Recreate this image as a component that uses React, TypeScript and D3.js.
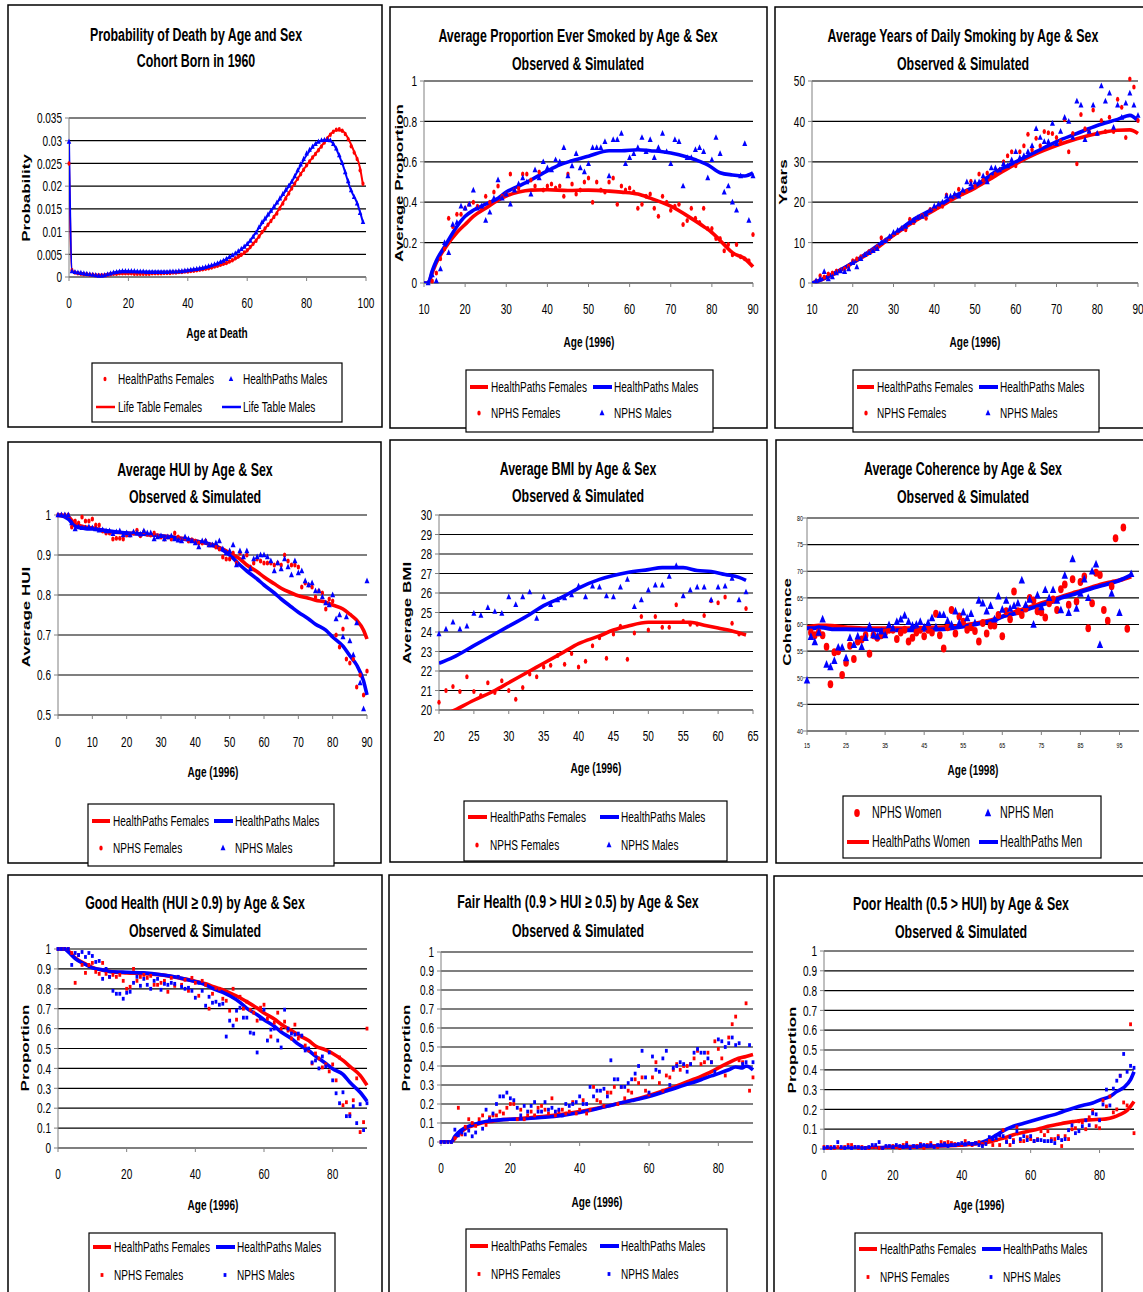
import React from 'react';
import * as d3 from 'd3';

// squashed Arial look of the original picture
const SX = 0.67;
const FONT = '"Liberation Sans", Arial, sans-serif';
const RED = '#ff0000';
const BLUE = '#0000ff';

// ---------- panel 1: probability of death (ages 0..99) ----------
const hpDeathFemales = [0.025,0.0015,0.001,0.0008,0.0007,0.0006,0.0006,0.0005,0.0005,0.0004,
  0.0004,0.0004,0.0004,0.0005,0.0006,0.0007,0.0007,0.0008,0.0008,0.0008,
  0.0008,0.0008,0.0007,0.0007,0.0007,0.0007,0.0007,0.0007,0.0008,0.0008,
  0.0008,0.0008,0.0009,0.0009,0.0009,0.001,0.001,0.0011,0.0011,0.0012,
  0.0012,0.0013,0.0014,0.0015,0.0016,0.0017,0.0018,0.0019,0.0021,0.0023,
  0.0025,0.0027,0.0029,0.0031,0.0034,0.0037,0.0041,0.0045,0.0049,0.0054,
  0.0059,0.0066,0.0073,0.008,0.0089,0.0099,0.0107,0.0115,0.0123,0.0132,
  0.014,0.0151,0.0162,0.0173,0.0184,0.0195,0.0205,0.0216,0.0226,0.0236,
  0.0246,0.0254,0.0263,0.0271,0.0279,0.0287,0.0296,0.0305,0.0313,0.032,
  0.0324,0.0325,0.0322,0.0315,0.0303,0.0288,0.0274,0.026,0.0235,0.0205];
const hpDeathMales = [0.0298,0.0013,0.0011,0.001,0.0009,0.0008,0.0007,0.0006,0.0005,0.0004,
  0.0003,0.0003,0.0004,0.0006,0.0008,0.001,0.0011,0.0012,0.0013,0.0013,
  0.0013,0.0013,0.0013,0.0012,0.0012,0.0012,0.0011,0.0011,0.0011,0.0011,
  0.0011,0.0011,0.0011,0.0011,0.0012,0.0012,0.0012,0.0013,0.0013,0.0014,
  0.0015,0.0016,0.0017,0.0018,0.0019,0.002,0.0022,0.0024,0.0026,0.0028,
  0.003,0.0033,0.0036,0.004,0.0044,0.0048,0.0052,0.0057,0.0062,0.0067,
  0.0073,0.008,0.0089,0.0098,0.011,0.0121,0.0129,0.0138,0.0146,0.0155,
  0.0164,0.0173,0.0183,0.0192,0.0201,0.021,0.0222,0.0235,0.0248,0.026,
  0.0272,0.028,0.0287,0.0293,0.0298,0.0301,0.0302,0.0302,0.0301,0.0293,
  0.0283,0.0268,0.0251,0.0231,0.0211,0.0191,0.0176,0.0162,0.0141,0.0121];
const lifeTableFemales: [number, number][] = [[0,0.025],[1,0.0012],[5,0.0006],[10,0.0004],[15,0.0007],[20,0.0008],[30,0.0008],[40,0.0012],[50,0.0024],[55,0.0036],[60,0.0058],[65,0.0098],[70,0.0142],[75,0.0196],[80,0.0246],[85,0.0288],[88,0.0314],[90,0.0323],[92,0.0322],[94,0.0305],[96,0.0276],[98,0.024],[99,0.0202]];
const lifeTableMales: [number, number][] = [[0,0.03],[1,0.0013],[5,0.0008],[10,0.0003],[15,0.001],[18,0.0013],[25,0.0012],[35,0.0012],[40,0.0015],[50,0.003],[55,0.0047],[60,0.0072],[65,0.0118],[70,0.0163],[75,0.021],[80,0.0268],[84,0.0298],[87,0.0302],[89,0.0293],[92,0.025],[95,0.019],[97,0.0163],[99,0.012]];

// ---------- panel 2: ever smoked (ages 11..90) ----------
const nphsSmokeFemales = [null,0.01,0.05,0.12,0.17,0.32,0.28,0.34,0.34,0.37,0.39,0.40,0.38,0.37,0.43,0.40,0.45,0.48,0.43,0.44,
  0.54,0.46,0.47,0.54,0.54,0.51,0.48,0.55,0.46,0.48,0.49,0.47,0.48,0.43,0.54,0.49,0.44,0.46,0.50,0.52,
  0.40,0.50,0.46,0.45,0.50,0.52,0.39,0.48,0.46,0.47,0.45,0.37,0.39,0.43,0.44,0.37,0.33,0.43,0.40,0.36,
  0.38,0.39,0.29,0.31,0.37,0.32,0.30,0.37,0.27,0.27,0.22,0.22,0.16,0.19,0.14,0.19,0.13,0.12,0.11,0.24];
const nphsSmokeMales = [0.0,0.04,0.01,0.07,0.20,0.15,0.29,0.30,0.38,0.37,0.39,0.46,0.37,0.38,0.31,0.35,0.42,0.51,0.42,0.44,
  0.39,0.46,0.49,0.52,0.50,0.44,0.56,0.52,0.60,0.57,0.56,0.61,0.60,0.67,0.53,0.58,0.64,0.57,0.55,0.59,
  0.67,0.67,0.67,0.70,0.53,0.71,0.71,0.74,0.59,0.62,0.64,0.67,0.72,0.65,0.71,0.62,0.67,0.74,0.65,0.59,
  0.71,0.70,0.48,0.62,0.62,0.66,0.67,0.65,0.52,0.61,0.72,0.64,0.45,0.48,0.40,0.36,0.53,0.69,0.31,0.53];
const hpSmokeFemales: [number, number][] = [[10,0],[11,0],[12,0.05],[13,0.1],[15,0.17],[18,0.25],[20,0.29],[22,0.33],[25,0.37],[28,0.41],[30,0.43],[33,0.45],[36,0.46],[40,0.462],[45,0.458],[50,0.46],[55,0.455],[58,0.45],[62,0.44],[65,0.42],[70,0.38],[75,0.32],[78,0.28],[80,0.25],[83,0.19],[85,0.15],[88,0.12],[90,0.08]];
const hpSmokeMales: [number, number][] = [[10,0],[11,0],[12,0.06],[13,0.11],[15,0.18],[18,0.28],[20,0.33],[22,0.36],[25,0.39],[28,0.42],[30,0.45],[33,0.48],[36,0.51],[40,0.555],[43,0.585],[46,0.605],[50,0.628],[55,0.655],[58,0.655],[62,0.66],[65,0.655],[68,0.65],[72,0.635],[76,0.61],[79,0.585],[82,0.546],[85,0.535],[88,0.53],[90,0.545]];

// ---------- panel 3: years of daily smoking (ages 11..90) ----------
const nphsYearsFemales = [0.5,1.8,1.5,2.2,2.5,3,3.2,3.5,4.2,5.5,6,6.5,7,7.8,8.2,9,11.2,10.5,11,12,
  12.5,13.5,13.2,15.8,15,16,16.8,16,18.2,18.5,18.8,19,21.8,21,21.8,23.2,22.2,22.8,25.2,24,
  27,25.5,27.2,26.2,27,28,30,31.5,32.5,29,32.5,34,36.8,33,35.8,34,37.5,37.2,37,36,
  35,40.5,32.5,37,29.5,41.7,38.2,37.5,42.8,37,40.2,37.5,41,37.5,45.5,43.5,36,50.5,48.5,40.2];
const nphsYearsMales = [0.5,1,2.8,1,1.5,2.5,3,2.8,3.5,5,4,6,7,7.5,8,8.5,10,10.5,11.5,12.5,
  13,13.5,14,15,15.5,16.2,16.5,17,18,19,19.5,20,21.5,21.5,22,21.5,23,25,24.5,25,
  25,26.5,25,28.5,28.5,28,29.5,29,30.5,32.5,31,31.5,32.5,34,38.2,36,35,35,39.5,34.5,
  37.5,41,40,36,45,44,35.5,37.5,44,37,48.8,45,47,38.5,44,41,44.5,47,44,41.5];
const hpYearsFemales: [number, number][] = [[10,0],[11,0.3],[15,2],[20,5],[25,8],[30,11.8],[35,15.2],[40,18],[45,21],[50,23.5],[55,26.5],[60,29.5],[65,32],[70,34],[75,35.7],[80,37],[85,37.8],[88,37.9],[90,37]];
const hpYearsMales: [number, number][] = [[10,0],[11,0.3],[15,2.2],[20,5],[25,8.5],[30,12],[35,15.8],[40,18.5],[45,21.5],[50,24],[55,27.5],[60,30],[65,32.5],[70,35],[75,37],[80,39],[85,40.5],[88,41.5],[90,40.2]];

// ---------- panel 4: average HUI (ages 0..90) ----------
const nphsHuiFemales = [1,1,1,1,0.97,0.985,0.98,0.995,0.985,0.985,0.99,0.975,0.975,0.96,0.955,0.955,0.94,0.942,0.942,0.94,
  0.95,0.95,0.955,0.962,0.948,0.958,0.952,0.95,0.955,0.948,0.945,0.94,0.945,0.94,0.955,0.945,0.938,0.942,0.935,0.938,
  0.935,0.93,0.93,0.935,0.925,0.925,0.92,0.915,0.895,0.89,0.89,0.905,0.88,0.905,0.895,0.9,0.87,0.88,0.89,0.885,
  0.88,0.88,0.88,0.875,0.88,0.875,0.9,0.885,0.875,0.875,0.87,0.82,0.83,0.825,0.82,0.795,0.81,0.805,0.765,0.79,
  0.785,0.7,0.67,0.715,0.64,0.63,0.64,0.57,0.6,0.55,0.61];
const nphsHuiMales = [1,1,1,1,0.98,0.965,0.97,0.968,0.968,0.97,0.968,0.965,0.962,0.963,0.96,0.96,0.953,0.958,0.96,0.95,
  0.955,0.95,0.958,0.955,0.952,0.96,0.955,0.955,0.94,0.945,0.948,0.94,0.945,0.948,0.94,0.937,0.935,0.945,0.94,0.935,
  0.93,0.92,0.935,0.935,0.925,0.925,0.93,0.935,0.915,0.905,0.91,0.925,0.875,0.91,0.895,0.91,0.865,0.89,0.895,0.9,
  0.9,0.895,0.885,0.86,0.88,0.865,0.89,0.87,0.85,0.885,0.855,0.86,0.835,0.825,0.83,0.81,0.81,0.795,0.78,0.775,
  0.8,0.74,0.75,0.695,0.745,0.685,0.65,0.73,0.58,0.515,0.835];
const hpHuiFemales: [number, number][] = [[0,1],[3,0.995],[5,0.978],[8,0.97],[10,0.968],[15,0.958],[20,0.955],[25,0.952],[30,0.948],[35,0.943],[40,0.935],[45,0.925],[48,0.915],[50,0.905],[53,0.89],[55,0.875],[58,0.858],[60,0.845],[63,0.828],[65,0.817],[68,0.805],[70,0.798],[73,0.792],[75,0.787],[78,0.782],[80,0.775],[83,0.765],[85,0.752],[87,0.737],[89,0.712],[90,0.69]];
const hpHuiMales: [number, number][] = [[0,1],[3,0.99],[5,0.972],[8,0.966],[10,0.965],[15,0.96],[20,0.955],[25,0.952],[30,0.948],[35,0.942],[40,0.935],[45,0.925],[48,0.912],[50,0.9],[53,0.875],[55,0.86],[58,0.84],[60,0.825],[63,0.805],[65,0.79],[68,0.77],[70,0.757],[73,0.74],[75,0.727],[78,0.712],[80,0.695],[83,0.672],[85,0.648],[87,0.625],[89,0.585],[90,0.55]];

// ---------- panel 5: BMI (ages 20..64) ----------
const nphsBmiFemales = [20.4,21.0,21.2,20.95,21.7,20.95,20.75,21.4,20.9,21.5,21.0,20.55,21.15,21.85,21.7,22.2,22.3,22.8,22.35,22.9,
  22.2,22.5,23.3,23.7,22.65,23.9,24.3,22.6,23.95,24.8,24.1,24.8,24.25,24.25,25.4,24.55,24.4,24.4,24.85,25.6,
  25.5,25.8,24.45,23.9,25.2];
const nphsBmiMales = [23.9,24.15,24.5,24.15,24.3,24.95,24.85,25.25,25.05,24.95,25.8,25.4,25.8,26.05,24.7,25.8,25.4,25.65,25.75,25.9,
  26.35,25.8,26.35,26.3,25.85,25.8,26.3,26.7,25.3,25.65,26.15,26.4,26.4,26.85,27.4,25.85,26.15,26.3,26.3,25.65,
  26.3,26.35,26.75,25.65,26.05];
const hpBmiFemales: [number, number][] = [[20,19.6],[22,19.95],[25,20.5],[28,21.0],[30,21.4],[33,22.0],[35,22.4],[38,23.0],[40,23.4],[43,23.8],[45,24.1],[47,24.3],[50,24.5],[53,24.5],[56,24.5],[58,24.35],[60,24.2],[62,24.05],[64,23.85]];
const hpBmiMales: [number, number][] = [[20,22.4],[22,22.7],[25,23.3],[28,23.9],[30,24.3],[33,24.9],[35,25.35],[38,25.85],[40,26.25],[43,26.7],[45,26.9],[47,27.05],[50,27.2],[52,27.3],[55,27.3],[57,27.15],[59,27.1],[61,26.95],[63,26.8],[64,26.65]];

// ---------- panel 6: coherence (ages 15..98) ----------
const nphsCohWomen = [null,58.5,58,58.5,58,55.8,48.8,54.8,55,50.5,52.8,56,53.5,56.8,57.2,58,54.5,58,57.5,58,
  58.5,59,59,57.3,58.5,59,56.8,57.5,58.5,59,57.8,59,58.5,62,58,55.5,59.5,62.7,58.3,61.5,
  60.5,59,59.5,58.8,56.8,60.3,58.3,59.8,59.8,61.8,57.8,62.5,61,66.2,62.5,61.8,63,65,64.5,62.5,
  62.3,61.3,64,64.7,62.7,66.6,67.5,63.7,68.5,64.3,68,69,59.3,64,69.7,69.3,62.7,60.7,67.2,76.2,
  null,78.2,59.2,null];
const nphsCohMen = [49.5,57.7,56.7,58.5,61,52.5,52,53.2,55.7,55.7,53.7,57.5,56.2,57.8,55.8,57.5,59.7,58,57.8,58.7,
  58,59.9,59.3,60.5,61,61.7,60.5,59.8,60,60.5,59.5,60.3,61.2,59.5,61.8,61.8,60.7,60,62.5,60.3,
  62.3,61.2,62,60.3,64.5,64,62.5,63.5,61,65.3,62.8,64.5,63,63.5,64,68.3,63.7,64.7,60,65.5,
  63.3,66.5,65,66.5,64.5,62.7,69.2,62.2,72.3,63,65.8,68.5,65,70,71.3,56.2,null,null,65.8,null,
  62.2,null,null,69.5];
const hpCohWomen: [number, number][] = [[15,59.5],[18,59.8],[20,59.8],[25,59.5],[30,59.3],[35,59.3],[40,59.3],[45,59.4],[50,59.5],[55,59.8],[58,60.2],[60,60.5],[63,61],[65,61.5],[68,62.3],[70,62.8],[73,63.5],[75,64],[78,64.7],[80,65.2],[83,65.9],[85,66.3],[88,67],[90,67.5],[93,68],[95,68.3],[98,69]];
const hpCohMen: [number, number][] = [[15,59.3],[17,59.3],[18,59.5],[20,59.3],[22,59.1],[25,59.1],[30,59],[35,58.9],[40,58.9],[45,59],[50,59.1],[55,59.6],[58,60],[60,60.3],[63,60.8],[65,61.5],[68,62],[70,62.5],[73,63.2],[75,63.7],[78,64.3],[80,65],[83,65.6],[85,66.1],[88,66.8],[90,67.2],[93,67.8],[95,68.3],[98,69.3]];

// ---------- panel 7: good health (ages 0..90) ----------
const nphsGoodFemales = [1,1,1,1,0.98,0.83,0.97,0.92,0.88,0.92,0.93,0.885,0.875,0.93,0.875,0.86,0.87,0.86,0.87,0.84,
  0.8,0.81,0.9,0.84,0.86,0.87,0.855,0.865,0.82,0.82,0.83,0.84,0.785,0.855,0.815,0.86,0.82,0.845,0.79,0.855,
  0.83,0.765,0.84,0.82,0.7,0.775,0.805,0.8,0.75,0.74,0.69,0.8,0.645,0.76,0.7,0.735,0.695,0.68,0.64,0.705,
  0.72,0.65,0.56,0.63,0.68,0.6,0.635,0.59,0.55,0.62,0.55,0.56,0.515,0.49,0.425,0.475,0.45,0.405,0.42,0.385,
  0.42,0.34,0.455,0.215,0.23,0.17,0.24,0.35,0.08,0.13,0.6];
const nphsGoodMales = [1,1,1,1,0.92,0.98,0.97,0.985,0.96,0.98,0.965,0.935,0.94,0.85,0.9,0.86,0.79,0.775,0.775,0.75,
  0.78,0.785,0.83,0.86,0.815,0.85,0.82,0.8,0.84,0.85,0.795,0.825,0.82,0.83,0.825,0.86,0.81,0.8,0.805,0.79,
  0.755,0.83,0.79,0.715,0.76,0.73,0.735,0.72,0.725,0.56,0.64,0.615,0.69,0.705,0.655,0.655,0.58,0.575,0.48,0.65,
  0.695,0.54,0.595,0.6,0.54,0.505,0.695,0.6,0.575,0.57,0.575,0.565,0.49,0.5,0.43,0.44,0.4,0.46,0.41,0.48,
  0.34,0.275,0.225,0.28,0.16,0.16,0.21,0.125,0.22,0.09,0.225];
const hpGoodFemales: [number, number][] = [[0,1],[2,1],[3,0.99],[5,0.955],[8,0.925],[10,0.908],[13,0.893],[15,0.887],[20,0.88],[25,0.876],[30,0.87],[35,0.855],[40,0.838],[43,0.825],[45,0.812],[48,0.795],[50,0.78],[53,0.755],[55,0.735],[58,0.703],[60,0.678],[63,0.648],[65,0.622],[68,0.59],[70,0.568],[73,0.54],[75,0.513],[78,0.492],[80,0.475],[83,0.44],[85,0.41],[88,0.365],[90,0.315]];
const hpGoodMales: [number, number][] = [[0,1],[2,1],[3,0.985],[5,0.952],[8,0.922],[10,0.905],[13,0.895],[15,0.887],[20,0.883],[25,0.88],[30,0.871],[35,0.857],[40,0.836],[43,0.82],[45,0.802],[48,0.782],[50,0.765],[53,0.732],[55,0.702],[58,0.67],[60,0.645],[63,0.612],[65,0.583],[68,0.55],[70,0.522],[73,0.49],[75,0.462],[78,0.425],[80,0.398],[83,0.37],[85,0.33],[88,0.28],[90,0.235]];

// ---------- panel 8: fair health (ages 0..90) ----------
const nphsFairFemales = [0,0,0,0,0.02,0.18,0.04,0.08,0.12,0.1,0.085,0.12,0.14,0.09,0.13,0.14,0.14,0.16,0.15,0.18,
  0.2,0.2,0.12,0.17,0.12,0.14,0.16,0.14,0.18,0.19,0.17,0.15,0.23,0.14,0.16,0.17,0.15,0.16,0.21,0.15,
  0.17,0.22,0.15,0.17,0.29,0.22,0.21,0.19,0.26,0.26,0.29,0.2,0.29,0.23,0.27,0.26,0.33,0.31,0.34,0.27,
  0.25,0.34,0.42,0.31,0.27,0.35,0.34,0.38,0.41,0.38,0.4,0.4,0.41,0.44,0.48,0.41,0.42,0.47,0.42,0.53,
  0.49,0.44,0.35,0.55,0.62,0.66,0.43,0.42,0.73,0.27,0.34];
const nphsFairMales = [0,0,0,0,0.065,0.035,0.05,0.04,0.06,0.03,0.05,0.1,0.07,0.17,0.12,0.15,0.2,0.24,0.24,0.26,
  0.23,0.22,0.18,0.14,0.19,0.16,0.19,0.21,0.16,0.16,0.21,0.17,0.18,0.16,0.17,0.14,0.2,0.19,0.2,0.21,
  0.24,0.2,0.2,0.29,0.24,0.27,0.27,0.28,0.24,0.43,0.33,0.33,0.29,0.29,0.31,0.33,0.36,0.4,0.48,0.34,
  0.26,0.45,0.38,0.37,0.44,0.48,0.3,0.39,0.4,0.42,0.41,0.37,0.41,0.47,0.49,0.47,0.47,0.44,0.42,0.37,
  0.54,0.53,0.5,0.52,0.55,0.51,0.52,0.41,0.42,0.51,0.42];
const hpFairFemales: [number, number][] = [[0,0],[3,0],[4,0.02],[5,0.04],[7,0.07],[10,0.09],[13,0.105],[15,0.11],[18,0.118],[20,0.12],[23,0.124],[25,0.127],[30,0.135],[35,0.146],[40,0.16],[45,0.178],[50,0.198],[55,0.22],[60,0.245],[65,0.275],[70,0.31],[75,0.345],[78,0.37],[80,0.39],[83,0.418],[85,0.435],[88,0.45],[90,0.46]];
const hpFairMales: [number, number][] = [[0,0],[3,0],[4,0.03],[5,0.05],[7,0.075],[10,0.095],[13,0.108],[15,0.113],[18,0.118],[20,0.12],[23,0.121],[25,0.124],[30,0.13],[35,0.14],[40,0.155],[45,0.175],[50,0.198],[55,0.218],[60,0.24],[65,0.268],[70,0.298],[75,0.328],[78,0.348],[80,0.36],[83,0.38],[85,0.395],[87,0.39],[88,0.4],[90,0.38]];

// ---------- panel 9: poor health (ages 0..90) ----------
const nphsPoorFemales = [0.01,0.005,0.01,0.005,0.01,0.005,0.01,0.02,0.02,0.01,0.005,0.01,0.005,0.005,0.01,0.01,0.005,0.005,0.01,0.01,
  0.015,0.01,0.005,0.02,0.03,0.01,0.01,0.015,0.025,0.005,0.02,0.03,0.015,0.01,0.035,0.03,0.035,0.03,0.025,0.02,
  0.02,0.04,0.025,0.02,0.03,0.035,0.025,0.03,0.045,0.02,0.045,0.02,0.095,0.04,0.02,0.045,0.11,0.04,0.04,0.06,
  0.05,0.04,0.05,0.09,0.07,0.09,0.05,0.05,0.065,0.015,0.065,0.05,0.1,0.105,0.14,0.135,0.1,0.16,0.195,0.115,
  0.105,0.245,0.215,0.265,0.185,0.2,0.37,0.235,0.22,0.63,0.08];
const nphsPoorMales = [0.005,0.01,0.005,0.01,0.035,0.01,0.005,0.01,0.005,0.01,0.01,0.005,0.005,0.01,0.02,0.02,0.035,0.005,0.015,0.015,
  0.01,0.02,0.015,0.01,0.02,0.005,0.015,0.01,0.02,0.02,0.015,0.02,0.01,0.02,0.02,0.025,0.015,0.02,0.02,0.025,
  0.03,0.025,0.03,0.025,0.03,0.02,0.015,0.025,0.06,0.05,0.055,0.07,0.065,0.035,0.06,0.035,0.09,0.05,0.065,0.045,
  0.065,0.04,0.045,0.045,0.04,0.04,0.04,0.03,0.055,0.045,0.05,0.095,0.12,0.08,0.09,0.115,0.145,0.12,0.18,0.175,
  0.145,0.225,0.3,0.22,0.305,0.345,0.37,0.48,0.39,0.42,0.41];
const hpPoorFemales: [number, number][] = [[0,0],[10,0.002],[20,0.008],[30,0.012],[40,0.02],[45,0.028],[48,0.035],[50,0.045],[53,0.06],[55,0.072],[58,0.085],[60,0.092],[63,0.105],[65,0.115],[68,0.125],[70,0.132],[73,0.14],[75,0.145],[78,0.148],[80,0.15],[82,0.152],[84,0.16],[86,0.175],[88,0.195],[90,0.24]];
const hpPoorMales: [number, number][] = [[0,0],[10,0.003],[20,0.01],[30,0.015],[40,0.022],[45,0.03],[48,0.05],[50,0.07],[53,0.1],[55,0.115],[58,0.13],[60,0.14],[63,0.155],[65,0.165],[68,0.18],[70,0.193],[73,0.21],[75,0.22],[78,0.232],[80,0.247],[83,0.265],[85,0.29],[87,0.31],[89,0.35],[90,0.39]];

// ---------- tick labels ----------
const deathYTicks = [0,0.005,0.01,0.015,0.02,0.025,0.03,0.035];
const deathXTicks = [0,20,40,60,80,100];
const propYTicks5 = [0,0.2,0.4,0.6,0.8,1];
const smokeXTicks = [10,20,30,40,50,60,70,80,90];
const yearsYTicks = [0,10,20,30,40,50];
const huiYTicks = [0.5,0.6,0.7,0.8,0.9,1];
const huiXTicks = [0,10,20,30,40,50,60,70,80,90];
const bmiYTicks = [20,21,22,23,24,25,26,27,28,29,30];
const bmiXTicks = [20,25,30,35,40,45,50,55,60,65];
const cohYTicks = [40,45,50,55,60,65,70,75,80];
const cohXTicks = [15,25,35,45,55,65,75,85,95];
const propYTicks10 = [0,0.1,0.2,0.3,0.4,0.5,0.6,0.7,0.8,0.9,1];
const healthXTicks = [0,20,40,60,80];

type Mark = 'dot' | 'tri' | 'sq' | 'bigdot' | 'bigtri';
type Scatter = { start: number; values: (number | null)[]; color: string; mark: Mark };
type LineS = { pts: [number, number][]; color: string; width: number };
type LegItem = { label: string; color: string; kind: Mark | 'line' };

interface Panel {
  box: [number, number, number, number];
  plot: [number, number, number, number];
  xDomain: [number, number];
  yDomain: [number, number];
  xTicks: number[];
  yTicks: number[];
  tickSize: number;
  xTickDy: number;
  title: string[];
  titleX: number;
  titleY: number[];
  yLabel: string;
  yLabelX: number;
  yLabelY: number;
  xLabel: string;
  xLabelX: number;
  xLabelY: number;
  legend: { box: [number, number, number, number]; rows: [number, number]; t1: number; c2: number; size: number; lineW: number; items: LegItem[] };
  lines: LineS[];
  scatters: Scatter[];
}

const hpLegend = (f: string, m: string, nf: string, nm: string, mk: Mark): LegItem[] => [
  { label: f, color: RED, kind: 'line' },
  { label: m, color: BLUE, kind: 'line' },
  { label: nf, color: RED, kind: mk === 'sq' ? 'sq' : 'dot' },
  { label: nm, color: BLUE, kind: mk },
];

const panels: Panel[] = [
  {
    box: [8, 5, 382, 427], plot: [69, 118, 366, 277], xDomain: [0, 100], yDomain: [0, 0.035],
    xTicks: deathXTicks, yTicks: deathYTicks, tickSize: 15, xTickDy: 31,
    title: ['Probability of Death by Age and Sex', 'Cohort Born in 1960'], titleX: 196, titleY: [41, 67],
    yLabel: 'Probability', yLabelX: 30, yLabelY: 198, xLabel: 'Age at Death', xLabelX: 217, xLabelY: 338,
    legend: { box: [92, 363, 342, 422], rows: [379, 407], t1: 26, c2: 151, size: 15, lineW: 2.5, items: [
      { label: 'HealthPaths Females', color: RED, kind: 'dot' },
      { label: 'HealthPaths Males', color: BLUE, kind: 'tri' },
      { label: 'Life Table Females', color: RED, kind: 'line' },
      { label: 'Life Table Males', color: BLUE, kind: 'line' },
    ] },
    lines: [{ pts: lifeTableFemales, color: RED, width: 2 }, { pts: lifeTableMales, color: BLUE, width: 2 }],
    scatters: [{ start: 0, values: hpDeathFemales, color: RED, mark: 'dot' }, { start: 0, values: hpDeathMales, color: BLUE, mark: 'tri' }],
  },
  {
    box: [390, 7, 767, 428], plot: [424, 81, 753, 283], xDomain: [10, 90], yDomain: [0, 1],
    xTicks: smokeXTicks, yTicks: propYTicks5, tickSize: 15, xTickDy: 31,
    title: ['Average Proportion Ever Smoked by Age & Sex', 'Observed & Simulated'], titleX: 578, titleY: [42, 70],
    yLabel: 'Average Proportion', yLabelX: 403, yLabelY: 183, xLabel: 'Age (1996)', xLabelX: 589, xLabelY: 347,
    legend: { box: [466, 370, 713, 432], rows: [387, 413], t1: 25, c2: 148, size: 15, lineW: 4, items: hpLegend('HealthPaths Females', 'HealthPaths Males', 'NPHS Females', 'NPHS Males', 'tri') },
    lines: [{ pts: hpSmokeFemales, color: RED, width: 3.6 }, { pts: hpSmokeMales, color: BLUE, width: 3.6 }],
    scatters: [{ start: 11, values: nphsSmokeFemales, color: RED, mark: 'dot' }, { start: 11, values: nphsSmokeMales, color: BLUE, mark: 'tri' }],
  },
  {
    box: [775, 7, 1160, 428], plot: [812, 81, 1138, 283], xDomain: [10, 90], yDomain: [0, 50],
    xTicks: smokeXTicks, yTicks: yearsYTicks, tickSize: 15, xTickDy: 31,
    title: ['Average Years of Daily Smoking by Age & Sex', 'Observed & Simulated'], titleX: 963, titleY: [42, 70],
    yLabel: 'Years', yLabelX: 787, yLabelY: 182, xLabel: 'Age (1996)', xLabelX: 975, xLabelY: 347,
    legend: { box: [853, 370, 1099, 432], rows: [387, 413], t1: 24, c2: 147, size: 15, lineW: 4, items: hpLegend('HealthPaths Females', 'HealthPaths Males', 'NPHS Females', 'NPHS Males', 'tri') },
    lines: [{ pts: hpYearsFemales, color: RED, width: 3.6 }, { pts: hpYearsMales, color: BLUE, width: 3.6 }],
    scatters: [{ start: 11, values: nphsYearsFemales, color: RED, mark: 'dot' }, { start: 11, values: nphsYearsMales, color: BLUE, mark: 'tri' }],
  },
  {
    box: [8, 442, 381, 863], plot: [58, 515, 367, 715], xDomain: [0, 90], yDomain: [0.5, 1],
    xTicks: huiXTicks, yTicks: huiYTicks, tickSize: 15, xTickDy: 32,
    title: ['Average HUI by Age & Sex', 'Observed & Simulated'], titleX: 195, titleY: [476, 503],
    yLabel: 'Average HUI', yLabelX: 30, yLabelY: 617, xLabel: 'Age (1996)', xLabelX: 213, xLabelY: 777,
    legend: { box: [88, 804, 334, 866], rows: [821, 848], t1: 25, c2: 147, size: 15, lineW: 4, items: hpLegend('HealthPaths Females', 'HealthPaths Males', 'NPHS Females', 'NPHS Males', 'tri') },
    lines: [{ pts: hpHuiFemales, color: RED, width: 3.6 }, { pts: hpHuiMales, color: BLUE, width: 3.6 }],
    scatters: [{ start: 0, values: nphsHuiFemales, color: RED, mark: 'dot' }, { start: 0, values: nphsHuiMales, color: BLUE, mark: 'tri' }],
  },
  {
    box: [390, 440, 767, 862], plot: [439, 515, 753, 710], xDomain: [20, 65], yDomain: [20, 30],
    xTicks: bmiXTicks, yTicks: bmiYTicks, tickSize: 15, xTickDy: 31,
    title: ['Average BMI by Age & Sex', 'Observed & Simulated'], titleX: 578, titleY: [475, 502],
    yLabel: 'Average BMI', yLabelX: 411, yLabelY: 613, xLabel: 'Age (1996)', xLabelX: 596, xLabelY: 773,
    legend: { box: [464, 801, 727, 861], rows: [817, 845], t1: 26, c2: 157, size: 15, lineW: 4, items: hpLegend('HealthPaths Females', 'HealthPaths Males', 'NPHS Females', 'NPHS Males', 'tri') },
    lines: [{ pts: hpBmiFemales, color: RED, width: 3.6 }, { pts: hpBmiMales, color: BLUE, width: 3.6 }],
    scatters: [{ start: 20, values: nphsBmiFemales, color: RED, mark: 'dot' }, { start: 20, values: nphsBmiMales, color: BLUE, mark: 'tri' }],
  },
  {
    box: [776, 440, 1160, 863], plot: [807, 518, 1139, 731], xDomain: [15, 100], yDomain: [40, 80],
    xTicks: cohXTicks, yTicks: cohYTicks, tickSize: 8, xTickDy: 17,
    title: ['Average Coherence by Age & Sex', 'Observed & Simulated'], titleX: 963, titleY: [475, 503],
    yLabel: 'Coherence', yLabelX: 791, yLabelY: 622, xLabel: 'Age (1998)', xLabelX: 973, xLabelY: 775,
    legend: { box: [843, 796, 1101, 858], rows: [813, 842], t1: 29, c2: 157, size: 16, lineW: 4, items: [
      { label: 'NPHS Women', color: RED, kind: 'bigdot' },
      { label: 'NPHS Men', color: BLUE, kind: 'bigtri' },
      { label: 'HealthPaths Women', color: RED, kind: 'line' },
      { label: 'HealthPaths Men', color: BLUE, kind: 'line' },
    ] },
    lines: [{ pts: hpCohWomen, color: RED, width: 4 }, { pts: hpCohMen, color: BLUE, width: 4 }],
    scatters: [{ start: 15, values: nphsCohWomen, color: RED, mark: 'bigdot' }, { start: 15, values: nphsCohMen, color: BLUE, mark: 'bigtri' }],
  },
  {
    box: [8, 875, 382, 1300], plot: [58, 949, 367, 1148], xDomain: [0, 90], yDomain: [0, 1],
    xTicks: healthXTicks, yTicks: propYTicks10, tickSize: 15, xTickDy: 31,
    title: ['Good Health (HUI \u2265 0.9) by Age & Sex', 'Observed & Simulated'], titleX: 195, titleY: [909, 937],
    yLabel: 'Proportion', yLabelX: 29, yLabelY: 1048, xLabel: 'Age (1996)', xLabelX: 213, xLabelY: 1210,
    legend: { box: [89, 1233, 335, 1296], rows: [1247, 1275], t1: 25, c2: 148, size: 15, lineW: 4, items: hpLegend('HealthPaths Females', 'HealthPaths Males', 'NPHS Females', 'NPHS Males', 'sq') },
    lines: [{ pts: hpGoodFemales, color: RED, width: 3.6 }, { pts: hpGoodMales, color: BLUE, width: 3.6 }],
    scatters: [{ start: 0, values: nphsGoodFemales, color: RED, mark: 'sq' }, { start: 0, values: nphsGoodMales, color: BLUE, mark: 'sq' }],
  },
  {
    box: [389, 875, 767, 1300], plot: [441, 952, 753, 1142], xDomain: [0, 90], yDomain: [0, 1],
    xTicks: healthXTicks, yTicks: propYTicks10, tickSize: 15, xTickDy: 31,
    title: ['Fair Health (0.9 > HUI \u2265 0.5) by Age & Sex', 'Observed & Simulated'], titleX: 578, titleY: [908, 937],
    yLabel: 'Proportion', yLabelX: 410, yLabelY: 1048, xLabel: 'Age (1996)', xLabelX: 597, xLabelY: 1207,
    legend: { box: [466, 1229, 727, 1296], rows: [1246, 1274], t1: 25, c2: 155, size: 15, lineW: 4, items: hpLegend('HealthPaths Females', 'HealthPaths Males', 'NPHS Females', 'NPHS Males', 'sq') },
    lines: [{ pts: hpFairFemales, color: RED, width: 3.6 }, { pts: hpFairMales, color: BLUE, width: 3.6 }],
    scatters: [{ start: 0, values: nphsFairFemales, color: RED, mark: 'sq' }, { start: 0, values: nphsFairMales, color: BLUE, mark: 'sq' }],
  },
  {
    box: [774, 876, 1160, 1300], plot: [824, 951, 1134, 1149], xDomain: [0, 90], yDomain: [0, 1],
    xTicks: healthXTicks, yTicks: propYTicks10, tickSize: 15, xTickDy: 31,
    title: ['Poor Health (0.5 > HUI) by Age & Sex', 'Observed & Simulated'], titleX: 961, titleY: [910, 938],
    yLabel: 'Proportion', yLabelX: 796, yLabelY: 1050, xLabel: 'Age (1996)', xLabelX: 979, xLabelY: 1210,
    legend: { box: [855, 1233, 1102, 1296], rows: [1249, 1277], t1: 25, c2: 148, size: 15, lineW: 4, items: hpLegend('HealthPaths Females', 'HealthPaths Males', 'NPHS Females', 'NPHS Males', 'sq') },
    lines: [{ pts: hpPoorFemales, color: RED, width: 3.6 }, { pts: hpPoorMales, color: BLUE, width: 3.6 }],
    scatters: [{ start: 0, values: nphsPoorFemales, color: RED, mark: 'sq' }, { start: 0, values: nphsPoorMales, color: BLUE, mark: 'sq' }],
  },
];

const Txt = ({ x, y, size, bold = false, anchor = 'start', vertical = false, children }: any) => (
  <text
    transform={vertical ? `translate(${x},${y}) rotate(-90) scale(1,${SX})` : `translate(${x},${y}) scale(${SX},1)`}
    fontSize={size}
    fontWeight={bold ? 'bold' : 'normal'}
    textAnchor={anchor}
    fontFamily={FONT}
    fill="#000"
  >
    {children}
  </text>
);

function Marker({ kind, x, y, color, small }: { kind: Mark; x: number; y: number; color: string; small?: boolean }) {
  const k = small ? 0.9 : 1;
  if (kind === 'dot') return <ellipse cx={x} cy={y} rx={1.7 * k} ry={2.5 * k} fill={color} />;
  if (kind === 'tri') return <path d={`M${x},${y - 3.4 * k}L${x + 2.5 * k},${y + 2.3 * k}L${x - 2.5 * k},${y + 2.3 * k}Z`} fill={color} />;
  if (kind === 'sq') return <rect x={x - 1.4} y={y - 1.9} width={2.8} height={3.8} fill={color} />;
  if (kind === 'bigdot') return <ellipse cx={x} cy={y} rx={2.8} ry={4} fill={color} />;
  return <path d={`M${x},${y - 4.5}L${x + 3.2},${y + 3.2}L${x - 3.2},${y + 3.2}Z`} fill={color} />;
}

function ChartPanel({ p, idx }: { p: Panel; idx: number }) {
  const [l, t, r, b] = p.plot;
  const x = d3.scaleLinear().domain(p.xDomain).range([l, r]);
  const y = d3.scaleLinear().domain(p.yDomain).range([b, t]);
  const line = d3.line<[number, number]>().x(d => x(d[0])).y(d => y(d[1])).curve(d3.curveMonotoneX);
  const clipId = `clip${idx}`;
  const lg = p.legend;
  const [lx] = lg.box;
  const small = idx === 0;

  const legendMark = (it: LegItem, col: number, row: number) => {
    const cy = lg.rows[row];
    const tx = col === 0 ? lx + lg.t1 : lx + lg.c2;
    const x0 = col === 0 ? lx + 4 : lx + lg.c2 - 21;
    const x1 = col === 0 ? lx + lg.t1 - 3 : lx + lg.c2 - 2;
    const mx = col === 0 ? lx + (lg.t1 === 29 ? 14 : 13) : lx + lg.c2 - 12;
    return (
      <g key={it.label}>
        {it.kind === 'line'
          ? <line x1={x0} x2={x1} y1={cy} y2={cy} stroke={it.color} strokeWidth={lg.lineW} />
          : <Marker kind={it.kind} x={mx} y={cy} color={it.color} small={small} />}
        <Txt x={tx} y={cy + 5} size={lg.size}>{it.label}</Txt>
      </g>
    );
  };

  return (
    <g>
      <rect x={p.box[0]} y={p.box[1]} width={p.box[2] - p.box[0]} height={p.box[3] - p.box[1]} fill="#fff" stroke="#000" strokeWidth={1.5} />
      <clipPath id={clipId}><rect x={l} y={t - 2} width={r - l + 3} height={b - t + 2} /></clipPath>
      {p.title.map((s, i) => (
        <Txt key={i} x={p.titleX} y={p.titleY[i]} size={18.5} bold anchor="middle">{s}</Txt>
      ))}
      {p.yTicks.map(v => (
        <g key={'y' + v}>
          <line x1={l} x2={r} y1={y(v)} y2={y(v)} stroke="#000" strokeWidth={1.2} />
          <line x1={l - 4} x2={l} y1={y(v)} y2={y(v)} stroke="#808080" strokeWidth={1} />
          <Txt x={l - (p.tickSize < 10 ? 4 : 7)} y={y(v) + p.tickSize * 0.35} size={p.tickSize} anchor="end">{String(v)}</Txt>
        </g>
      ))}
      <line x1={l} x2={l} y1={t} y2={b} stroke="#808080" strokeWidth={1} />
      <line x1={l} x2={r} y1={b} y2={b} stroke="#808080" strokeWidth={1} />
      {p.xTicks.map(v => (
        <g key={'x' + v}>
          <line x1={x(v)} x2={x(v)} y1={b} y2={b + 4} stroke="#808080" strokeWidth={1} />
          <Txt x={x(v)} y={b + p.xTickDy} size={p.tickSize} anchor="middle">{String(v)}</Txt>
        </g>
      ))}
      <g clipPath={`url(#${clipId})`}>
        {p.lines.map((s, i) => (
          <path key={i} d={line(s.pts) || ''} fill="none" stroke={s.color} strokeWidth={s.width} strokeLinejoin="round" />
        ))}
      </g>
      {p.scatters.map((s, i) => (
        <g key={'s' + i}>
          {s.values.map((v, j) => v == null ? null : (
            <Marker key={j} kind={s.mark} x={x(s.start + j)} y={y(v)} color={s.color} small={small} />
          ))}
        </g>
      ))}
      <Txt x={p.yLabelX} y={p.yLabelY} size={17} bold anchor="middle" vertical>{p.yLabel}</Txt>
      <Txt x={p.xLabelX} y={p.xLabelY} size={15} bold anchor="middle">{p.xLabel}</Txt>
      <rect x={lg.box[0]} y={lg.box[1]} width={lg.box[2] - lg.box[0]} height={lg.box[3] - lg.box[1]} fill="#fff" stroke="#000" strokeWidth={1.2} />
      {lg.items.map((it, i) => legendMark(it, i % 2, Math.floor(i / 2)))}
    </g>
  );
}

export default function App() {
  return (
    <svg width={1143} height={1292} style={{ position: 'absolute', left: 0, top: 0, background: '#fff' }}>
      <rect width={1143} height={1292} fill="#fff" />
      {panels.map((p, i) => <ChartPanel key={i} p={p} idx={i} />)}
    </svg>
  );
}
